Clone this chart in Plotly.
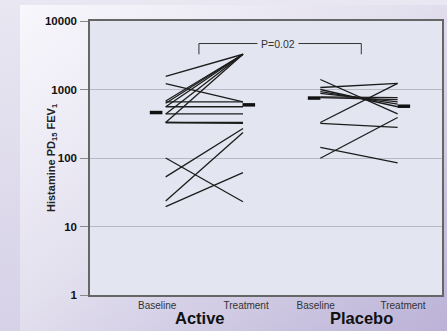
import base64
import numpy as np
import plotly.graph_objects as go

# ---------------- data ----------------
active_baseline  = [1560, 1220, 680, 630, 660, 560, 560, 440, 440, 330, 330, 330, 100, 53, 23.5, 19.5]
active_treatment = [3270,  660, 3270, 3270, 660, 560, 3270, 440, 3270, 3270, 330, 320, 23, 270, 236, 61]

placebo_baseline  = [1400, 1070, 1000, 930, 880, 780, 760, 330, 320, 143, 99]
placebo_treatment = [ 440, 1230,  560, 610, 660, 760, 710, 1230, 280, 85, 390]

mean_values = [461, 597, 750, 570]          # group means: Active B, Active T, Placebo B, Placebo T
tick_labels = ["Baseline", "Treatment", "Baseline", "Treatment"]
group_names = ["Active", "Placebo"]
y_ticks = [1, 10, 100, 1000, 10000]
p_text = "P=0.02"
bracket_low, bracket_high = 3270, 4690

# ---------------- layout constants ----------------
W, H = 447, 331
ML, MR, MT, MB = 90, 5, 21, 36
PW, PH = W - ML - MR, H - MT - MB
LINE_COL = "#1c1c1c"
PLOT_BG = "#e3e6f0"
mean_x = [0.876, 2.075, 2.92, 4.08]
tick_x = [0.89, 2.04, 2.94, 4.07]
group_x = [1.44, 3.53]
bracket_x = [1.43, 3.53]


def pairs(b, t, x0, x1):
    xs, ys = [], []
    for bb, tt in zip(b, t):
        xs += [x0, x1, None]
        ys += [bb, tt, None]
    return xs, ys


fig = go.Figure()

ax, ay = pairs(active_baseline, active_treatment, 1, 2)
px_, py_ = pairs(placebo_baseline, placebo_treatment, 3, 4)
for xs, ys in [(ax, ay), (px_, py_)]:
    fig.add_trace(go.Scatter(x=xs, y=ys, mode="lines",
                             line=dict(color=LINE_COL, width=1.3),
                             hoverinfo="skip", showlegend=False))

fig.add_trace(go.Scatter(x=mean_x, y=mean_values, mode="markers",
                         marker=dict(symbol="line-ew", size=9,
                                     line=dict(color="#111111", width=3.5)),
                         showlegend=False, hoverinfo="skip"))

# significance bracket
fig.add_trace(go.Scatter(x=[bracket_x[0], bracket_x[0], bracket_x[1], bracket_x[1]],
                         y=[bracket_low, bracket_high, bracket_high, bracket_low],
                         mode="lines", line=dict(color="#333333", width=1),
                         showlegend=False, hoverinfo="skip"))
fig.add_annotation(x=sum(bracket_x) / 2 - 0.03, y=np.log10(bracket_high), xref="x", yref="y",
                   text=p_text, showarrow=False, bgcolor=PLOT_BG, borderpad=3,
                   font=dict(family="Liberation Sans, Arial", size=10.5, color="#333333"))

# group labels
for gx, name in zip(group_x, group_names):
    fig.add_annotation(x=gx, y=-(317.5 - (MT + PH)) / PH, xref="x", yref="paper",
                       text=f"<b>{name}</b>", showarrow=False, yanchor="middle",
                       font=dict(family="Liberation Sans, Arial", size=16.5, color="#111111"))

# y title
fig.add_annotation(x=(52 - ML) / PW, y=0.5, xref="paper", yref="paper",
                   text="<b>Histamine PD<sub>15</sub> FEV<sub>1</sub></b>", textangle=-90,
                   showarrow=False, xanchor="center", yanchor="middle",
                   font=dict(family="Liberation Sans, Arial", size=11, color="#222222"))

# background image (gradient panel)
svg = f"""<svg xmlns='http://www.w3.org/2000/svg' width='{W}' height='{H}' viewBox='0 0 {W} {H}' preserveAspectRatio='none'>
<defs>
<linearGradient id='o' x1='0' y1='0' x2='0' y2='1'><stop offset='0' stop-color='#e9e7f2'/><stop offset='1' stop-color='#d6d1e7'/></linearGradient>
<linearGradient id='g' x1='0' y1='0' x2='1' y2='1'>
<stop offset='0' stop-color='#f8f7fc'/><stop offset='0.45' stop-color='#e4e1ef'/><stop offset='1' stop-color='#bbb2d7'/>
</linearGradient></defs>
<rect width='{W}' height='{H}' fill='url(#o)'/>
<rect x='20' y='5' width='{W-20}' height='{H-5}' fill='url(#g)'/>
</svg>"""
src = "data:image/svg+xml;base64," + base64.b64encode(svg.encode()).decode()
fig.add_layout_image(source=src, xref="paper", yref="paper", x=-ML / PW, y=1 + MT / PH,
                     sizex=W / PW, sizey=H / PH, sizing="stretch", xanchor="left",
                     yanchor="top", layer="below")

# plot-area background drawn above the gradient image
fig.add_shape(type="rect", xref="x domain", yref="y domain", x0=0, x1=1, y0=0, y1=1,
              fillcolor=PLOT_BG, line=dict(width=0), layer="below")

fig.update_layout(
    width=W, height=H,
    margin=dict(l=ML, r=MR, t=MT, b=MB, autoexpand=False),
    paper_bgcolor="#dcd8ea",
    plot_bgcolor=PLOT_BG,
    font=dict(family="Liberation Sans, Arial", color="#222222"),
    showlegend=False,
)
fig.update_xaxes(range=[0.021, 4.574], tickvals=tick_x, ticktext=tick_labels,
                 ticks="", showgrid=False, zeroline=False, automargin=False,
                 showline=True, linecolor="#666666", linewidth=1.5, mirror=True,
                 tickfont=dict(size=10, color="#333333"))
fig.update_yaxes(type="log", range=[0, 4], tickvals=y_ticks,
                 ticktext=[f"<b>{v}</b>" for v in y_ticks], automargin=False,
                 ticks="outside", ticklen=8, tickcolor="#888888", tickwidth=1,
                 showgrid=True, gridcolor="#b6b8c4", gridwidth=1,
                 showline=True, linecolor="#666666", linewidth=1.5, mirror=True,
                 zeroline=False, ticklabelstandoff=1,
                 tickfont=dict(size=11.5, color="#111111"))

fig.write_html("out.html", config={"responsive": False, "displayModeBar": False},
               post_script="document.body.style.margin='0';document.body.style.overflow='hidden';")
